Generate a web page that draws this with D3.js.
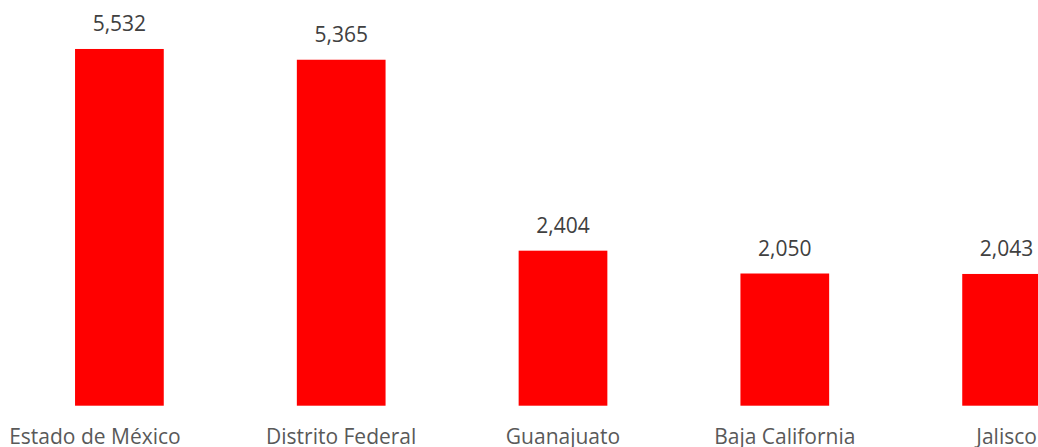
<!DOCTYPE html>
<html>
<head>
<meta charset="utf-8">
<script src="https://cdn.jsdelivr.net/npm/d3@7"></script>
<style>
  html, body { margin: 0; padding: 0; background: #fff; }
  svg { display: block; }
  text { font-family: "Open Sans", "Noto Sans", sans-serif; }
</style>
</head>
<body>
<svg id="chart" width="1038" height="447"></svg>
<script>
// States and their totals
const categories = ["Estado de México", "Distrito Federal", "Guanajuato", "Baja California", "Jalisco"];
const values = [5532, 5365, 2404, 2050, 2043];

const width = 1038, height = 447;
const svg = d3.select("#chart");

const x = d3.scaleBand()
  .domain(categories)
  .range([8.5, 1117.5])
  .paddingInner(0.6)
  .paddingOuter(0.3);

const y = d3.scaleLinear()
  .domain([0, 6000])
  .range([405.7, 18.8]);

const fmt = d3.format(",");
const data = categories.map((c, i) => ({ c, v: values[i] }));

// Bars
svg.append("g").selectAll("rect")
  .data(data)
  .join("rect")
  .attr("x", d => x(d.c))
  .attr("y", d => y(d.v))
  .attr("width", x.bandwidth())
  .attr("height", d => y(0) - y(d.v))
  .attr("fill", "#ff0000");

// Value labels
svg.append("g").selectAll("text")
  .data(data)
  .join("text")
  .attr("x", d => x(d.c) + x.bandwidth() / 2)
  .attr("y", d => y(d.v) - 18)
  .attr("text-anchor", "middle")
  .attr("font-size", 21)
  .attr("fill", "#404040")
  .text(d => fmt(d.v));

// Category labels
svg.append("g").selectAll("text")
  .data(data)
  .join("text")
  .attr("x", d => x(d.c) + x.bandwidth() / 2)
  .attr("dx", (d, i) => i === 0 ? -24.5 : 0)
  .attr("y", 444)
  .attr("text-anchor", "middle")
  .attr("font-size", 21)
  .attr("fill", "#595959")
  .text(d => d.c);
</script>
</body>
</html>
